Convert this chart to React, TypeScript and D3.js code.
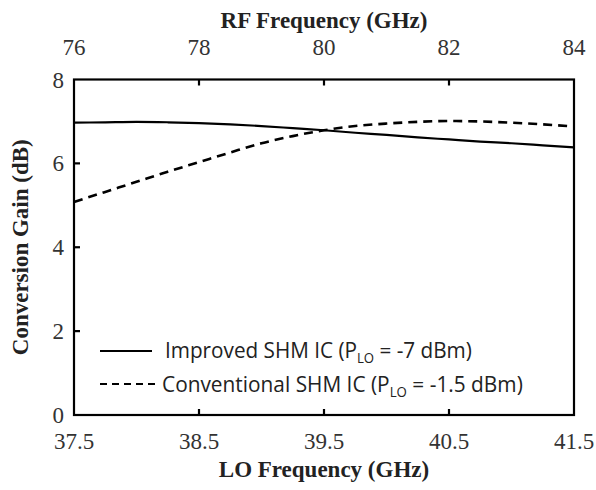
import React, { useLayoutEffect, useRef } from "react";
import * as d3 from "d3";

const loFreq = [37.5, 37.75, 38.0, 38.25, 38.5, 38.75, 39.0, 39.25, 39.5, 39.75, 40.0, 40.25, 40.5, 40.75, 41.0, 41.25, 41.5];
const improvedGain = [6.97, 6.98, 6.99, 6.98, 6.96, 6.93, 6.89, 6.84, 6.79, 6.73, 6.68, 6.62, 6.57, 6.52, 6.48, 6.43, 6.38];
const conventionalGain = [5.08, 5.32, 5.56, 5.80, 6.03, 6.26, 6.48, 6.65, 6.79, 6.89, 6.95, 6.99, 7.01, 7.0, 6.97, 6.93, 6.88];
const loTicks = [37.5, 38.5, 39.5, 40.5, 41.5];
const rfTicks = [76, 78, 80, 82, 84];
const yTicks = [0, 2, 4, 6, 8];
const seriesNames = ["Improved SHM IC", "Conventional SHM IC"];
const seriesPower = ["-7 dBm", "-1.5 dBm"];

const W = 596, H = 490;
const L = 74, R = 574, T = 79.5, B = 415;

export default function App() {
  const x = d3.scaleLinear().domain([37.5, 41.5]).range([L, R]);
  const xTop = d3.scaleLinear().domain([76, 84]).range([L, R]);
  const y = d3.scaleLinear().domain([0, 8]).range([B, T]);
  const line = d3.line<number>().x((_, i) => x(loFreq[i])).y((d) => y(d)).curve(d3.curveMonotoneX);
  const serif = "'Liberation Serif', 'Times New Roman', serif";
  const sans = "'Open Sans', 'Noto Sans', sans-serif";
  const tickLen = 6;
  const leg1 = useRef<SVGGElement>(null);
  const leg2 = useRef<SVGGElement>(null);
  const legendTargets = [
    { ref: leg1, x: 165, y: 358, w: 307 },
    { ref: leg2, x: 162, y: 392, w: 361 },
  ];
  useLayoutEffect(() => {
    legendTargets.forEach(({ ref, x: lx, y: ly, w }) => {
      const g = ref.current;
      if (!g) return;
      const t = g.querySelector("text") as SVGTextElement | null;
      if (!t) return;
      const natural = t.getBBox().width || w;
      g.setAttribute("transform", `translate(${lx},${ly}) scale(${w / natural},1)`);
    });
  });
  return (
    <svg width={W} height={H} style={{ position: "absolute", left: 0, top: 0, background: "#fff" }}>
      <rect x={0} y={0} width={W} height={H} fill="#fff" />
      {/* curves */}
      <path d={line(improvedGain) || ""} fill="none" stroke="#000" strokeWidth={2.2} />
      <path d={line(conventionalGain) || ""} fill="none" stroke="#000" strokeWidth={2.6} strokeDasharray="9 6" />
      {/* frame */}
      <rect x={L} y={T} width={R - L} height={B - T} fill="none" stroke="#000" strokeWidth={2.2} />
      {/* y ticks */}
      {yTicks.map((t) => (
        <g key={"y" + t}>
          {t > 0 && t < 8 && <line x1={L} x2={L + tickLen} y1={y(t)} y2={y(t)} stroke="#000" strokeWidth={2.2} />}
          <text x={64} y={y(t) + 8} textAnchor="end" fontFamily={serif} fontSize={23} fill="#333">{t}</text>
        </g>
      ))}
      {/* bottom ticks */}
      {loTicks.map((t) => (
        <g key={"b" + t}>
          {t > 37.5 && t < 41.5 && <line x1={x(t)} x2={x(t)} y1={B} y2={B - tickLen} stroke="#000" strokeWidth={2.2} />}
          <text x={x(t)} y={449} textAnchor="middle" fontFamily={serif} fontSize={23} fill="#333">{t.toFixed(1)}</text>
        </g>
      ))}
      {/* top ticks */}
      {rfTicks.map((t) => (
        <g key={"t" + t}>
          {t > 76 && t < 84 && <line x1={xTop(t)} x2={xTop(t)} y1={T} y2={T + tickLen} stroke="#000" strokeWidth={2.2} />}
          <text x={xTop(t)} y={55} textAnchor="middle" fontFamily={serif} fontSize={23} fill="#333">{t}</text>
        </g>
      ))}
      {/* axis titles */}
      <text x={(L + R) / 2} y={28} textAnchor="middle" fontFamily={serif} fontWeight="bold" fontSize={23} fill="#222">RF Frequency (GHz)</text>
      <text x={(L + R) / 2} y={477} textAnchor="middle" fontFamily={serif} fontWeight="bold" fontSize={23} fill="#222">LO Frequency (GHz)</text>
      <text transform={`translate(28,${(T + B) / 2}) rotate(-90)`} textAnchor="middle" fontFamily={serif} fontWeight="bold" fontSize={23} fill="#222">Conversion Gain (dB)</text>
      {/* legend */}
      <line x1={100} x2={152} y1={351} y2={351} stroke="#000" strokeWidth={2} />
      <g ref={leg1} transform="translate(165,358) scale(0.88,1)">
        <text x={0} y={0} fontFamily={sans} fontSize={22} fill="#222">
          {seriesNames[0]} (P<tspan fontSize={14} dy={5}>LO</tspan><tspan dy={-5}> = {seriesPower[0]})</tspan>
        </text>
      </g>
      <line x1={100} x2={158} y1={384} y2={384} stroke="#000" strokeWidth={2} strokeDasharray="7 5" />
      <g ref={leg2} transform="translate(162,392) scale(0.88,1)">
        <text x={0} y={0} fontFamily={sans} fontSize={22} fill="#222">
          {seriesNames[1]} (P<tspan fontSize={14} dy={5}>LO</tspan><tspan dy={-5}> = {seriesPower[1]})</tspan>
        </text>
      </g>
    </svg>
  );
}
